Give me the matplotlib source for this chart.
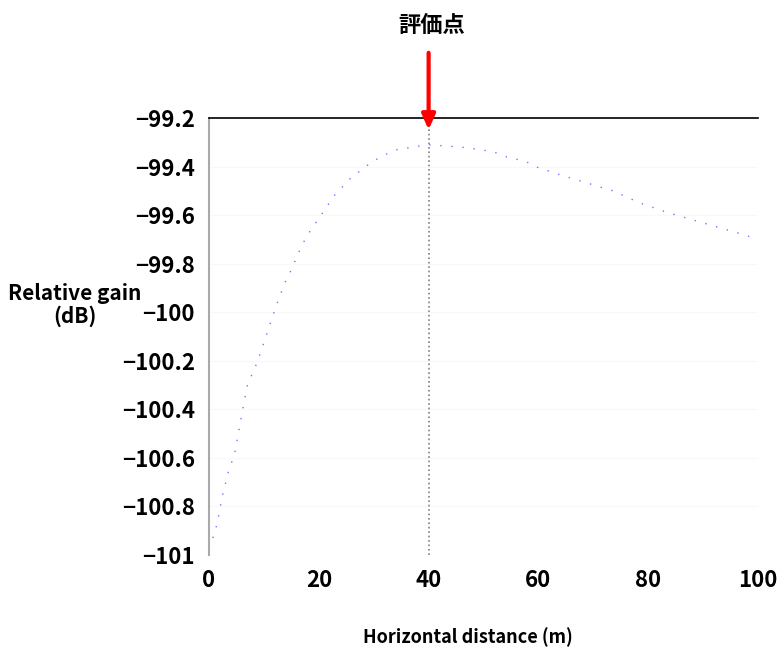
import numpy as np
import matplotlib.pyplot as plt

plt.rcParams['font.family'] = ['Noto Sans CJK JP', 'DejaVu Sans']

# Horizontal distance (m) vs relative gain (dB)
dist = [0.7, 1.5, 2.4, 3.5, 4.7, 5.5, 6.4, 7.1, 8.2, 9.5, 10.8, 12.3, 13.8,
        15.1, 16.2, 17.7, 19.2, 20.7, 22.8, 25.7, 29.7, 32.2, 34.3, 37.0,
        40.0, 43.0, 46.0, 49.4, 51.9, 54.2, 57.8, 59.4, 64.8, 69.2, 73.6,
        78.5, 83.6, 88.2, 94.3, 97.3, 100.0]
gain = [-100.93, -100.87, -100.76, -100.66, -100.58, -100.48, -100.37, -100.29,
        -100.24, -100.16, -100.07, -99.97, -99.88, -99.82, -99.76, -99.69,
        -99.64, -99.59, -99.52, -99.45, -99.38, -99.35, -99.33, -99.32,
        -99.31, -99.315, -99.32, -99.33, -99.34, -99.36, -99.38, -99.40,
        -99.44, -99.47, -99.50, -99.55, -99.59, -99.62, -99.66, -99.68, -99.70]

yticks = [-99.2, -99.4, -99.6, -99.8, -100, -100.2, -100.4, -100.6, -100.8, -101]
ytick_labels = ['−99.2', '−99.4', '−99.6', '−99.8', '−100', '−100.2',
                '−100.4', '−100.6', '−100.8', '−101']
xticks = [0, 20, 40, 60, 80, 100]
eval_x = 40

fig = plt.figure(figsize=(7.81, 6.51), dpi=100)
ax = fig.add_axes([0.2676, 0.1475, 0.703, 0.6712])

ax.plot(dist, gain, color='blue', lw=1.0, alpha=0.55, dashes=(1, 7))
ax.axvline(eval_x, color='gray', ls=':', lw=1.2)

ax.set_xlim(0, 100)
ax.set_ylim(-101, -99.2)
ax.set_yticks(yticks)
ax.set_yticklabels(ytick_labels)
ax.set_xticks(xticks)
ax.tick_params(length=0, labelsize=16, pad=10)
for lab in ax.get_xticklabels() + ax.get_yticklabels():
    lab.set_fontweight('bold')
ax.grid(axis='y', color='#f8f8f8', lw=0.8)

ax.spines['right'].set_visible(False)
ax.spines['bottom'].set_visible(False)
ax.spines['left'].set_color('#aaaaaa')
ax.spines['left'].set_linewidth(1.5)
ax.spines['top'].set_color('black')
ax.spines['top'].set_linewidth(1.2)

# red arrow marking the evaluation point
ax.annotate('', xy=(eval_x, -99.26), xytext=(eval_x, -98.92),
            arrowprops=dict(arrowstyle='-|>,head_width=0.4,head_length=0.9',
                            color='red', lw=3),
            annotation_clip=False)
fig.text(432 / 781, 1 - 25 / 651, '評価点', ha='center', va='center',
         fontsize=16, fontweight='bold')

fig.text(75 / 781, 1 - 305 / 651, 'Relative gain\n(dB)', ha='center',
         va='center', fontsize=15, fontweight='bold', linespacing=1.1)
fig.text(468 / 781, 1 - 637 / 651, 'Horizontal distance (m)', ha='center',
         va='center', fontsize=13, fontweight='bold')

fig.savefig('out.png', dpi=100)
